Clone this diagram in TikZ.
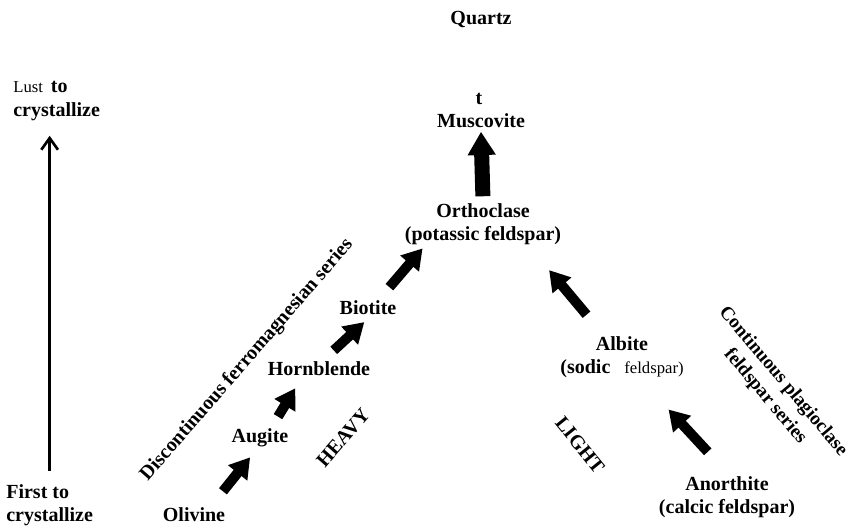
\documentclass[tikz,border=0pt]{standalone}
\usepackage{fontspec}
\setmainfont{Liberation Serif}
\usetikzlibrary{arrows.meta}

\begin{document}
\begin{tikzpicture}[x=0.6pt,y=-0.6pt,font=\fontsize{12}{14}\selectfont\bfseries,
    mineral/.style={align=center,inner sep=2pt},
    series/.style={align=center,inner sep=0pt},
    bigarrow/.style={line width=6pt,-{Triangle[width=14pt,length=12pt]}}]
\useasboundingbox (0,0) rectangle (850,528);
\def\smallfont{\fontsize{10}{12}\selectfont\mdseries}

% minerals, top to bottom
\node[mineral] (quartz) at (481,20) {Quartz};
\node[mineral] (tmark) at (479,99) {t};
\node[mineral] (muscovite) at (481,121) {Muscovite};
\node[mineral] (orthoclase) at (483,224) {Orthoclase\\(potassic feldspar)};
\node[mineral] (biotite) at (368,308) {Biotite};
\node[mineral] (hornblende) at (319,369) {Hornblende};
\node[mineral] (augite) at (260,438) {Augite};
\node[mineral] (olivine) at (194,515) {Olivine};
\node[mineral] (albite) at (622,357)
    {Albite\\(sodic\hspace{0.7em}{\smallfont feldspar)}};
\node[mineral] (anorthite) at (727,497) {Anorthite\\(calcic feldspar)};

% side labels
\node[series,rotate=49] (ferroseries) at (247,360)
    {Discontinuous ferromagnesian series};
\node[series,rotate=-50,font=\fontsize{11.5}{14}\selectfont\bfseries]
    (plagseries) at (774,389) {Continuous plagioclase\\feldspar series};
\node[series,rotate=49] (heavy) at (343,438) {HEAVY};
\node[series,rotate=-51] (light) at (580,445) {LIGHT};

\node[series,align=left,anchor=west] (lastlbl) at (13,101)
    {{\smallfont Lust}\hspace{0.4em}to\\crystallize};
\node[series,align=left,anchor=west] (firstlbl) at (6,505)
    {First to\\crystallize};

\draw[line width=1.6pt,-{Straight Barb[length=7pt,width=10pt]},
    shorten <=8pt,shorten >=9pt]
    (firstlbl.north) -- (firstlbl.north |- lastlbl.south);

% reaction arrows
\draw[bigarrow,shorten <=10pt,shorten >=5pt] (olivine.30) -- (augite.250);
\draw[bigarrow,shorten <=6pt,shorten >=6pt] (augite.45) -- (hornblende.210);
\draw[bigarrow,shorten <=7pt,shorten >=3pt] (hornblende.60) -- (biotite.south);
\draw[bigarrow,shorten <=8pt] (biotite.40) -- (orthoclase.202);
\draw[bigarrow,line width=9pt,-{Triangle[width=16pt,length=14pt]},
    shorten <=2pt] (orthoclase.north) -- (muscovite.south);
\draw[bigarrow,shorten <=14pt,shorten >=17pt] (albite.130) -- (orthoclase.333);
\draw[bigarrow,shorten <=17pt,shorten >=23pt] (anorthite.north) -- (albite.-50);
\end{tikzpicture}
\end{document}
